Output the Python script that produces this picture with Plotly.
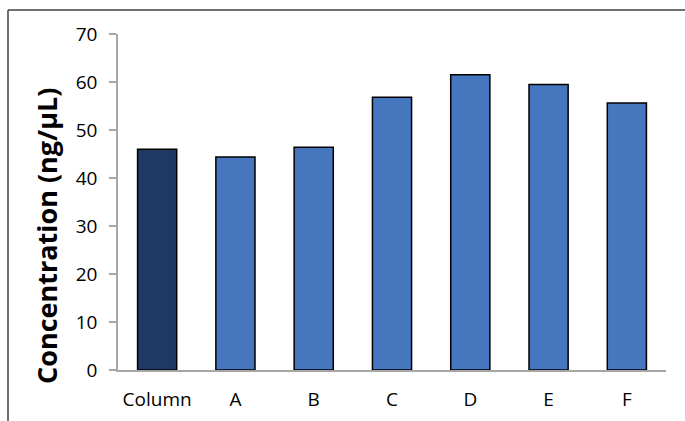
import plotly.graph_objects as go

categories = ["Column", "A", "B", "C", "D", "E", "F"]
values = [46.0, 44.4, 46.4, 56.8, 61.5, 59.5, 55.6]
bar_colors = ["#1F3864", "#4677BE", "#4677BE", "#4677BE", "#4677BE", "#4677BE", "#4677BE"]
y_ticks = [0, 10, 20, 30, 40, 50, 60, 70]

W, H = 685, 421
L, R, T, B = 118, 19, 34, 51
pw, ph = W - L - R, H - T - B

def px_x(px):
    return (px - L) / pw

def px_y(py):
    return (H - B - py) / ph

fig = go.Figure(go.Bar(
    x=categories, y=values, width=0.5,
    marker=dict(color=bar_colors, line=dict(color="#000000", width=1.5)),
))

font_family = "Open Sans, Noto Sans, sans-serif"

fig.update_layout(
    width=W, height=H,
    margin=dict(l=L, r=R, t=T, b=B),
    paper_bgcolor="white", plot_bgcolor="white",
    showlegend=False,
    font=dict(family=font_family, size=19, color="#000000"),
    xaxis=dict(showline=True, linecolor="#A6A6A6", linewidth=1.5, ticks="",
               showgrid=False, tickfont=dict(size=19), ticklabelstandoff=11,
               automargin=False),
    yaxis=dict(range=[0, 70], tickvals=y_ticks, showline=True, linecolor="#A6A6A6",
               linewidth=1.5, ticks="outside", ticklen=7, tickcolor="#A6A6A6",
               tickwidth=1.5, showgrid=False, zeroline=False,
               tickfont=dict(size=19), ticklabelstandoff=8, automargin=False),
    shapes=[
        dict(type="line", xref="paper", yref="paper", x0=px_x(8), x1=px_x(700),
             y0=px_y(10), y1=px_y(10), line=dict(color="#404040", width=1.5)),
        dict(type="line", xref="paper", yref="paper", x0=px_x(8), x1=px_x(8),
             y0=px_y(10), y1=px_y(440), line=dict(color="#404040", width=1.5)),
    ],
    annotations=[
        dict(text="<b>Concentration (ng/μL)</b>", xref="paper", yref="paper",
             x=px_x(46), y=px_y(236), textangle=-90, showarrow=False,
             font=dict(size=27, family=font_family, color="#000000"),
             xanchor="center", yanchor="middle"),
    ],
)

fig.write_html("out.html", config={"displayModeBar": False},
               post_script="document.body.style.margin='0';document.body.style.overflow='hidden';")
